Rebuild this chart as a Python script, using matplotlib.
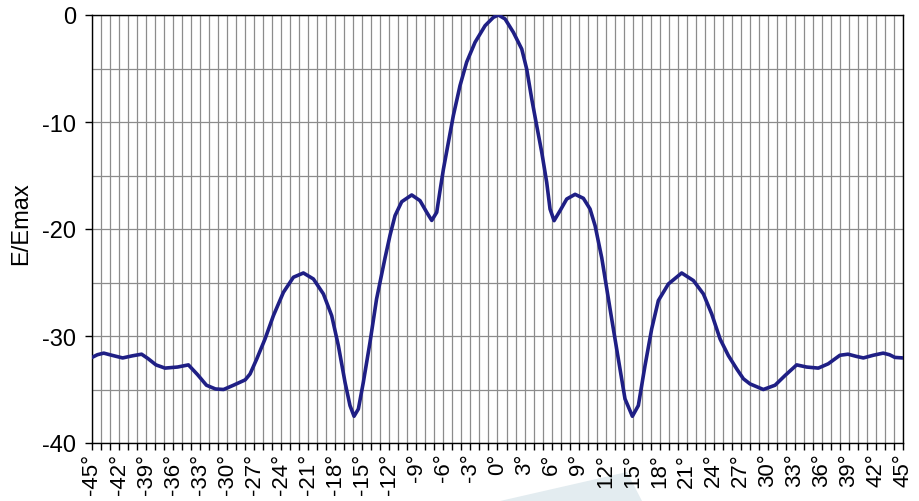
import numpy as np
import matplotlib
matplotlib.use("Agg")
import matplotlib.pyplot as plt
from matplotlib.patches import Polygon

plt.rcParams['font.family'] = ['Liberation Sans', 'DejaVu Sans']

# angle (degrees) and relative field strength E/Emax (dB)
angles = [-45.0, -44.4, -43.7, -42.8, -41.6, -40.5, -39.5, -38.8, -37.9, -36.9,
          -35.5, -34.3, -33.3, -32.3, -31.3, -30.4, -29.3, -28.0, -27.46, -26.72,
          -25.8, -24.87, -23.76, -22.65, -21.54, -20.43, -19.32, -18.4, -17.66, -16.92,
          -16.37, -15.92, -15.44, -14.89, -14.15, -13.42, -12.48, -11.93, -11.37, -10.63,
          -9.52, -8.6, -7.855, -7.3, -6.745, -6.375, -6.0, -5.45, -4.9, -4.16,
          -3.42, -2.49, -1.38, -0.46, 0.1, 0.84, 1.76, 2.69, 3.24, 3.8,
          4.35, 4.91, 5.46, 5.83, 6.28, 6.94, 7.68, 8.61, 9.53, 10.27,
          10.83, 11.57, 12.49, 13.41, 14.15, 14.97, 15.63, 16.37, 17.11, 17.85,
          18.96, 20.44, 21.74, 22.85, 23.77, 24.7, 25.62, 26.55, 27.29, 28.03,
          29.5, 30.8, 31.9, 33.2, 34.3, 35.6, 36.7, 38.0, 38.9, 39.8,
          40.6, 41.7, 42.8, 43.5, 44.1, 45.0]
levels = [-32.0, -31.75, -31.6, -31.8, -32.05, -31.85, -31.7, -32.1, -32.7, -33.0,
          -32.9, -32.7, -33.6, -34.6, -34.95, -35.0, -34.6, -34.1, -33.55, -32.15,
          -30.28, -28.1, -25.92, -24.51, -24.11, -24.67, -26.07, -28.1, -30.9, -34.33,
          -36.5, -37.5, -36.82, -34.33, -30.59, -26.54, -22.7, -20.6, -18.75, -17.45,
          -16.82, -17.35, -18.44, -19.2, -18.44, -16.4, -14.4, -11.9, -9.4, -6.6,
          -4.4, -2.55, -1.0, -0.22, 0.0, -0.37, -1.62, -3.18, -5.05, -7.85,
          -10.34, -12.83, -15.64, -18.13, -19.22, -18.29, -17.2, -16.76, -17.13, -18.13,
          -19.69, -22.7, -27.47, -32.15, -35.88, -37.5, -36.5, -32.77, -29.34, -26.69,
          -25.14, -24.11, -24.82, -26.07, -27.94, -30.28, -31.83, -33.08, -34.0, -34.48,
          -35.0, -34.6, -33.7, -32.7, -32.9, -33.0, -32.6, -31.8, -31.7, -31.9,
          -32.05, -31.8, -31.6, -31.75, -32.0, -32.05]

x_tick_values = list(range(-45, 46, 3))
x_tick_labels = [f"{v}°" for v in x_tick_values]
y_tick_values = [0, -10, -20, -30, -40]

fig = plt.figure(figsize=(9.2, 5.02), dpi=100)
ax = fig.add_axes([92 / 920, 1 - 444 / 502, (903 - 92) / 920, (444 - 16) / 502])

# faint watermark shape at the bottom
fig.patches.append(Polygon([(500 / 920, 0), (627 / 920, 1 - 473 / 502), (642 / 920, 0)],
                           closed=True, transform=fig.transFigure,
                           facecolor='#e3ecf0', edgecolor='none', zorder=-1))

ax.plot(angles, levels, color='#1f1f85', linewidth=2.6,
        solid_joinstyle='round', solid_capstyle='round', zorder=3)

ax.set_xlim(-45, 45)
ax.set_ylim(-40, 0)

ax.set_xticks(x_tick_values)
ax.set_xticklabels(x_tick_labels, rotation=90, fontsize=16)
ax.set_xticks(range(-45, 46), minor=True)
ax.set_yticks(y_tick_values)
ax.set_yticklabels([str(v) for v in y_tick_values], fontsize=17)
ax.set_yticks(range(-40, 1, 5), minor=True)

ax.tick_params(axis='x', which='both', length=5, width=1, direction='out', pad=2)
ax.tick_params(axis='y', which='major', length=5.4, width=1, direction='out', pad=6)
ax.tick_params(axis='y', which='minor', length=0)

ax.grid(True, axis='x', which='both', color='#8c8c8c', linewidth=0.9)
ax.grid(True, axis='y', which='both', color='#8c8c8c', linewidth=0.9)
ax.set_axisbelow(True)

for side in ['left', 'bottom', 'top', 'right']:
    ax.spines[side].set_color('black')
    ax.spines[side].set_linewidth(1.0)

ax.set_ylabel('E/Emax', fontsize=17)
ax.yaxis.set_label_coords(-0.074, 0.515)

fig.savefig('out.png', dpi=100)
